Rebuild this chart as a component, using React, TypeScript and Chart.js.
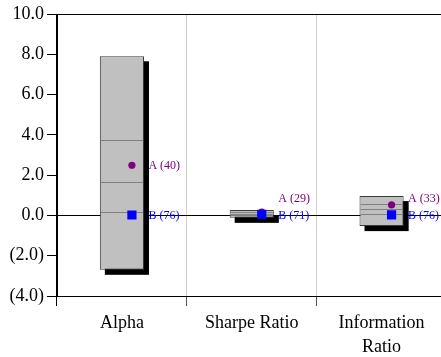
import React, { useEffect, useRef } from "react";
import { Chart, registerables } from "chart.js";

Chart.register(...registerables);

// ---- data ----
const CATEGORIES: (string | string[])[] = ["Alpha", "Sharpe Ratio", ["Information", "Ratio"]];
const BOX_LOW = [-2.7, -0.12, -0.53];
const BOX_HIGH = [7.9, 0.27, 0.96];
const P75 = [3.74, 0.17, 0.57];
const P50 = [1.66, 0.09, 0.33];
const P25 = [0.18, 0.02, 0.07];
const A_VALUES = [2.49, 0.17, 0.52];
const B_VALUES = [0.02, 0.05, 0.03];
const A_RANKS = [40, 29, 33];
const B_RANKS = [76, 71, 76];
const Y_TICKS = [-4, -2, 0, 2, 4, 6, 8, 10];

// ---- styles ----
const FONT = "'Liberation Serif', 'Times New Roman', serif";
const A_COLOR = "#800080";
const B_COLOR = "#0000ff";
const POINT_DX = 10;
const SHADOW = 5;

const fmt = (v: number) => (v < 0 ? `(${Math.abs(v).toFixed(1)})` : v.toFixed(1));

const boxPlugin = {
  id: "boxExtras",
  afterDatasetsUpdate(chart: any) {
    [1, 2].forEach((di) => {
      const meta = chart.getDatasetMeta(di);
      meta.data.forEach((el: any) => {
        el.x += POINT_DX;
      });
    });
  },
  beforeDatasetsDraw(chart: any) {
    const ctx = chart.ctx;
    const meta = chart.getDatasetMeta(0);
    ctx.save();
    ctx.fillStyle = "#000";
    meta.data.forEach((el: any) => {
      const left = el.x - el.width / 2;
      const top = Math.min(el.y, el.base);
      const h = Math.abs(el.base - el.y);
      ctx.fillRect(left + SHADOW, top + SHADOW, el.width, h);
    });
    ctx.restore();
  },
  afterDatasetDraw(chart: any, args: any) {
    if (args.index !== 0) return;
    const ctx = chart.ctx;
    const y = chart.scales.y;
    const meta = chart.getDatasetMeta(0);
    ctx.save();
    ctx.strokeStyle = "#808080";
    ctx.lineWidth = 1;
    meta.data.forEach((el: any, i: number) => {
      const left = el.x - el.width / 2 + 1;
      const right = el.x + el.width / 2 - 1;
      [P75[i], P50[i], P25[i]].forEach((v) => {
        const py = Math.round(y.getPixelForValue(v)) + 0.5;
        ctx.beginPath();
        ctx.moveTo(left, py);
        ctx.lineTo(right, py);
        ctx.stroke();
      });
    });
    ctx.restore();
  },
  afterDatasetsDraw(chart: any) {
    const ctx = chart.ctx;
    const metaA = chart.getDatasetMeta(1);
    const metaB = chart.getDatasetMeta(2);
    ctx.save();
    ctx.font = `12px ${FONT}`;
    ctx.textAlign = "left";
    ctx.textBaseline = "middle";
    metaB.data.forEach((elB: any, i: number) => {
      const elA = metaA.data[i];
      const bY = elB.y + 1;
      const aY = Math.min(elA.y + 1, bY - 17);
      ctx.fillStyle = B_COLOR;
      ctx.fillText(`B (${B_RANKS[i]})`, elB.x + 16.5, bY);
      ctx.fillStyle = A_COLOR;
      ctx.fillText(`A (${A_RANKS[i]})`, elA.x + 16.5, aY);
    });
    ctx.restore();
  },
};

export default function App() {
  const ref = useRef<HTMLCanvasElement>(null);
  useEffect(() => {
    if (!ref.current) return;
    const chart = new Chart(ref.current, {
      type: "bar",
      data: {
        labels: CATEGORIES as any,
        datasets: [
          {
            type: "bar",
            data: BOX_LOW.map((lo, i) => [lo, BOX_HIGH[i]]) as any,
            backgroundColor: "#c0c0c0",
            borderColor: "#3a3a3a",
            borderWidth: 1,
            borderSkipped: false,
            categoryPercentage: 1,
            barPercentage: 0.34,
            order: 3,
          },
          {
            type: "line",
            data: A_VALUES,
            showLine: false,
            pointStyle: "circle",
            pointRadius: 3.6,
            pointBorderWidth: 0,
            pointBackgroundColor: A_COLOR,
            pointBorderColor: A_COLOR,
            order: 2,
          } as any,
          {
            type: "line",
            data: B_VALUES,
            showLine: false,
            pointStyle: "rect",
            pointRadius: 6.5,
            pointBorderWidth: 0,
            pointBackgroundColor: B_COLOR,
            pointBorderColor: B_COLOR,
            order: 1,
          } as any,
        ],
      },
      options: {
        responsive: false,
        devicePixelRatio: 1,
        animation: false,
        layout: { padding: { top: 14, right: 3, left: 0, bottom: 0 } },
        plugins: {
          legend: { display: false },
          tooltip: { enabled: false },
        },
        scales: {
          x: {
            type: "category",
            offset: true,
            grid: {
              offset: true,
              color: (c: any) => (c.index === 0 ? "#000" : "#cfcfcf"),
              tickColor: (c: any) => (c.index === 0 ? "#000" : "#555"),
              lineWidth: 1,
              tickLength: 10,
            },
            border: { color: "#000", width: 1 },
            ticks: {
              color: "#000",
              padding: 5,
              maxRotation: 0,
              autoSkip: false,
              font: { family: FONT, size: 18, lineHeight: 1.333 },
            },
            afterFit: (s: any) => {
              s.height = 61;
            },
          },
          y: {
            type: "linear",
            min: -4,
            max: 10,
            afterBuildTicks: (s: any) => {
              s.ticks = Y_TICKS.map((v) => ({ value: v }));
            },
            grid: {
              color: (c: any) =>
                c.tick && (c.tick.value === 0 || c.tick.value === 10) ? "#000" : "rgba(0,0,0,0)",
              tickColor: "#000",
              lineWidth: 1,
              tickLength: 10,
            },
            border: { color: "#000", width: 1 },
            ticks: {
              color: "#000",
              padding: 3,
              callback: (v: any) => fmt(Number(v)),
              font: { family: FONT, size: 18 },
            },
            afterFit: (s: any) => {
              s.width = 57;
            },
          },
        },
      },
      plugins: [boxPlugin],
    });
    return () => chart.destroy();
  }, []);

  return (
    <div
      style={{
        position: "fixed",
        left: 0,
        top: 0,
        width: 441,
        height: 357,
        overflow: "hidden",
        background: "#fff",
      }}
    >
      <canvas ref={ref} width={453} height={357} style={{ display: "block" }} />
    </div>
  );
}
